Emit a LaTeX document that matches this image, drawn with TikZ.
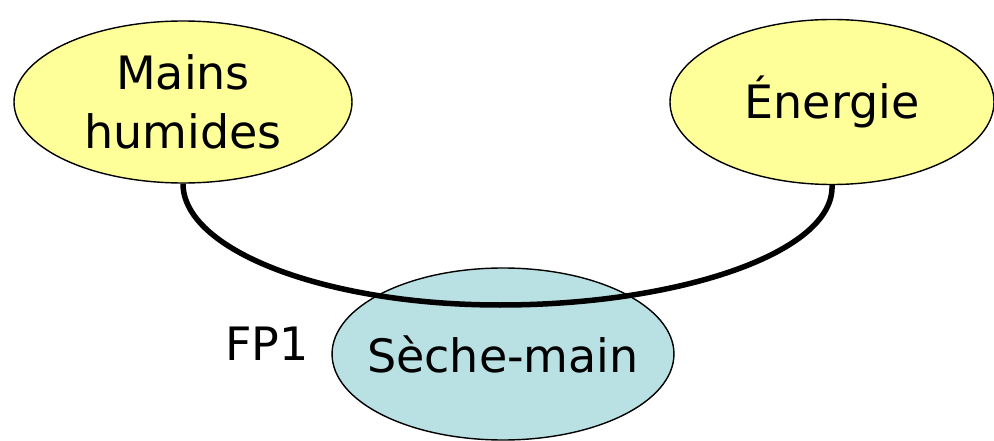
\documentclass[tikz,border=0pt]{standalone}
\usepackage{fontspec}
\setmainfont{DejaVu Sans}
\usetikzlibrary{shapes.geometric}
\definecolor{paleyellow}{HTML}{FFFF99}
\definecolor{paleblue}{HTML}{B9E0E3}
\tikzset{
  milieu/.style={ellipse, draw=black, fill=paleyellow, line width=1.4pt, inner sep=0pt, align=center,
    font=\fontsize{46}{59}\selectfont},
  produit/.style={ellipse, draw=black, fill=paleblue, line width=1.4pt, inner xsep=-15pt, inner ysep=0pt,
    font=\fontsize{46}{53}\selectfont},
  fonction/.style={line width=5.5pt, draw=black},
  }

\begin{document}
\begin{tikzpicture}[x=1pt, y=-1pt]
  \useasboundingbox (0,0) rectangle (994,441);
  % elements du milieu exterieur
  \node [milieu, minimum width=338pt, minimum height=162pt] (mains)   at (183,102) {Mains\\humides};
  \node [milieu, minimum width=324pt, minimum height=165pt] (energie) at (832,102) {Énergie};
  \node [produit, minimum width=338pt, minimum height=172pt] (seche)  at (503,354) {Sèche-main};
  \coordinate (bas) at (500,305);
  % fonction principale
  \draw [fonction] (mains.south) .. controls (183,250) and (325,305) .. (bas)
                   .. controls (680,305) and (835,252) .. (energie.south);
  \node [font=\fontsize{46}{53}\selectfont] (fp) at (267,344) {FP1};
\end{tikzpicture}
\end{document}
